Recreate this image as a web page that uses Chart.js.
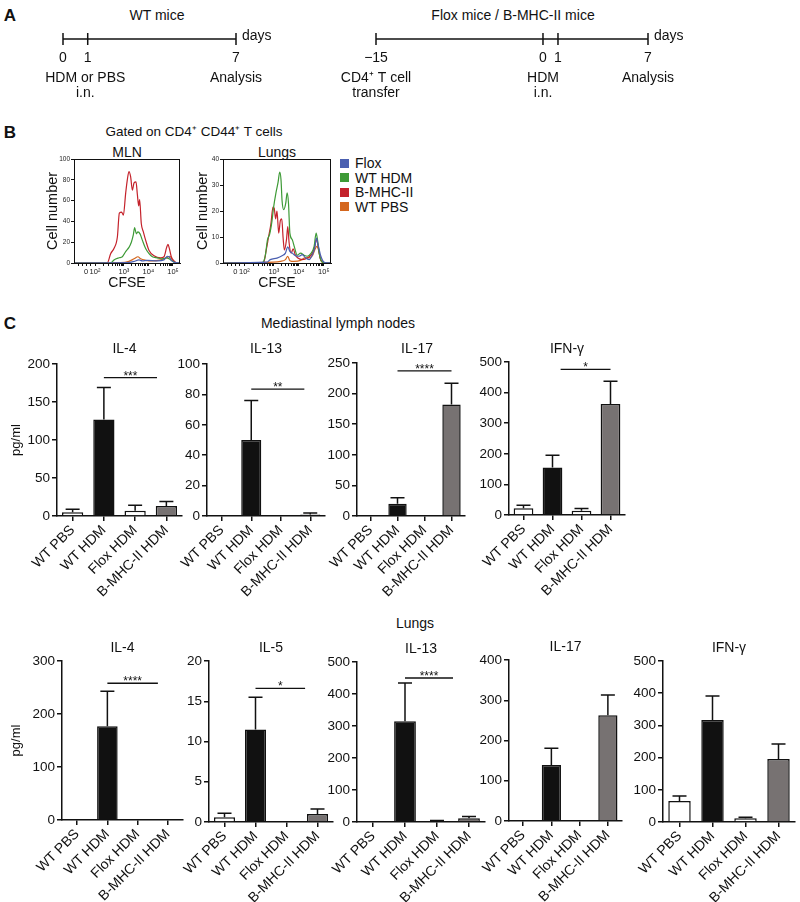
<!DOCTYPE html>
<html><head><meta charset="utf-8">
<script src="https://cdn.jsdelivr.net/npm/chart.js@4.4.1/dist/chart.umd.min.js"></script>
<style>
body{margin:0;background:#fff;width:800px;height:902px;position:relative;overflow:hidden;font-family:'Liberation Sans',Arial,sans-serif;color:#111}
.t{position:absolute;white-space:nowrap;transform:translate(-50%,-50%);line-height:1}
canvas{position:absolute}
.sq{position:absolute;width:9px;height:9px}
</style></head><body>
<script>
// ---------- DATA ----------
// Panel A timelines (days)
const tl1Days = [0, 1, 7];
const tl1DayLabels = ['0', '1', '7'];
const tl1Notes = [['HDM or PBS', 'i.n.'], ['Analysis']];
const tl1NoteDays = [0.9, 7];
const tl2Days = [-15, 0, 1, 7];
const tl2DayLabels = ['\u221215', '0', '1', '7'];
const tl2Notes = [['CD4\u207A T cell', 'transfer'], ['HDM', 'i.n.'], ['Analysis']];
const tl2NoteDays = [-15, 0, 7];

// Panel B histograms: [CFSE display channel (0-1024), cell number]
const histSeries = ['Flox', 'WT HDM', 'B-MHC-II', 'WT PBS'];
const histColors = ['#4a5fb0', '#3d9a36', '#c4222b', '#d4671e'];
const histTickCh = [116, 203, 482, 718, 956];
const histTickLabels = ['0', '10\u00B2', '10\u00B3', '10\u2074', '10\u2075'];
const mlnFlox = [[0,0],[515,0.3],[580,1.5],[628,3],[660,2],[708,2.5],[805,2],[869,3],[902,6.5],[918,6],[940,2.6],[982,0.3],[1024,0]];
const mlnWTHDM = [[0,0],[354,0],[386,3],[435,5],[467,6],[499,11],[531,15],[554,20],[573,27],[586,34],[602,28],[618,30],[638,28],[660,22],[692,14],[725,9],[757,6],[805,5],[853,4],[895,5],[918,4],[950,2],[982,0],[1024,0]];
const mlnBMHC = [[0,0],[322,0],[354,9],[386,14],[419,25],[438,48],[460,49],[477,46],[499,67],[515,80],[531,88],[547,83],[564,70],[580,77],[599,78],[612,66],[625,55],[634,61],[650,38],[670,30],[692,22],[725,12],[773,7],[837,5],[869,6],[895,15],[908,18],[921,14],[940,6],[966,2],[998,0],[1024,0]];
const mlnWTPBS = [[0,0],[451,0.3],[531,1.6],[580,4],[618,6],[644,4],[692,2.6],[757,2],[837,3],[895,5],[927,6.5],[950,3],[982,0.3],[1024,0]];
const lungFlox = [[0,0],[416,0.3],[448,1.3],[512,1.9],[560,2.8],[592,3.8],[614,6.2],[634,4.5],[656,3.8],[688,2.8],[720,2.6],[752,3.2],[784,1.9],[816,1.3],[848,3.2],[870,5.8],[886,9.6],[902,7],[928,2.6],[960,0.3],[1024,0]];
const lungWTHDM = [[0,0],[368,0],[400,2.6],[422,9],[442,11],[464,16],[480,21.5],[502,27],[522,31],[538,35],[550,32],[560,24],[576,20.5],[595,23],[608,27],[621,23],[634,11.5],[656,9],[678,6],[704,3],[736,3.8],[768,3],[800,2.6],[832,3.6],[864,6.4],[883,11.5],[896,9],[912,3.8],[934,0.6],[976,0],[1024,0]];
const lungBMHC = [[0,0],[384,0],[410,5],[432,10],[454,15],[474,21.5],[486,21],[499,17],[512,20],[528,11.5],[544,16.4],[557,17],[570,9.6],[582,5],[602,9],[614,14],[627,7.7],[646,3.8],[666,5.4],[685,3.2],[710,1.9],[752,1.3],[800,1.9],[848,3.8],[870,6.4],[886,9.2],[902,6.4],[922,1.9],[960,0],[1024,0]];
const lungWTPBS = [[0,0],[480,0.3],[544,0.6],[592,1.3],[614,2.6],[634,0.9],[672,0.6],[736,1],[774,2],[816,2],[848,2.8],[870,5],[890,6.4],[906,5],[928,1],[960,0.1],[1024,0]];

// Panel C bar charts (pg/ml): mean and SEM
const groups = ['WT PBS', 'WT HDM', 'Flox HDM', 'B-MHC-II HDM'];
const groupColors = ['#ffffff', '#111111', '#ffffff', '#777272'];
const mlnIL4 = [5, 127, 7, 13],      mlnIL4Err = [4, 42, 7, 6];
const mlnIL13 = [0, 50, 0, 1],       mlnIL13Err = [0, 26, 0, 1];
const mlnIL17 = [0, 20, 0, 182],     mlnIL17Err = [0, 10, 0, 35];
const mlnIFNg = [22, 155, 14, 363],  mlnIFNgErr = [10, 40, 7, 74];
const lungIL4 = [0, 177, 0, 0],      lungIL4Err = [0, 66, 0, 0];
const lungIL5 = [0.6, 11.5, 0, 1.0], lungIL5Err = [0.5, 4, 0, 0.6];
const lungIL13 = [0, 315, 3, 12],    lungIL13Err = [0, 119, 2, 5];
const lungIL17 = [0, 139, 0, 263],   lungIL17Err = [0, 42, 0, 50];
const lungIFNg = [65, 317, 12, 196], lungIFNgErr = [16, 74, 3, 46];

// ---------- SETUP ----------
const FONT = "'Liberation Sans', Arial, sans-serif";
Chart.defaults.font.family = FONT;
Chart.defaults.color = '#111';
Chart.defaults.animation = false;
Chart.defaults.responsive = false;
Chart.defaults.devicePixelRatio = 1;
Chart.defaults.plugins.legend.display = false;
Chart.defaults.plugins.tooltip.enabled = false;

class TimelineScale extends Chart.LinearScale {
  getPixelForValue(v) {
    const k = this.options.preScale ?? 1;
    const f = d => d < 0 ? d * k : d;
    return this.getPixelForDecimal((f(v) - f(this.min)) / (f(this.max) - f(this.min)));
  }
}
TimelineScale.id = 'timeline';
TimelineScale.defaults = Chart.LinearScale.defaults;
Chart.register(TimelineScale);

function txt(s, x, y, size, extra) {
  const d = document.createElement('div');
  d.className = 't';
  d.textContent = s;
  d.style.left = x + 'px'; d.style.top = y + 'px'; d.style.fontSize = size + 'px';
  if (extra) Object.assign(d.style, extra);
  document.body.appendChild(d);
  return d;
}
function addCanvas(left, top, w, h) {
  const c = document.createElement('canvas');
  c.width = w; c.height = h;
  Object.assign(c.style, {left: left + 'px', top: top + 'px', width: w + 'px', height: h + 'px'});
  document.body.appendChild(c);
  return c;
}

// ---------- PANEL LABELS / TEXT ----------
txt('A', 10, 15, 17, {fontWeight: 'bold'});
txt('WT mice', 157, 15, 14);
txt('Flox mice / B-MHC-II mice', 513, 15, 14);
txt('B', 10, 132, 17, {fontWeight: 'bold'});
txt('Gated on CD4\u207A CD44\u207A T cells', 194, 132, 13.5);
txt('MLN', 127, 152, 14);
txt('Lungs', 277, 152, 14);
txt('C', 10, 323, 17, {fontWeight: 'bold'});
txt('Mediastinal lymph nodes', 338, 323, 14);
txt('Lungs', 415, 623, 14);

// legend
histSeries.forEach((s, i) => {
  const y = 163 + i * 14.6;
  const q = document.createElement('div');
  q.className = 'sq';
  Object.assign(q.style, {left: '340px', top: (y - 4.5) + 'px', background: histColors[i]});
  document.body.appendChild(q);
  txt(s, 355, y, 14, {transform: 'translate(0,-50%)'});
});

// ---------- TIMELINES ----------
function makeTimeline(days, dayLabels, notes, noteDays, min, max, left, right, canvasLeft, canvasW, preScale) {
  const c = addCanvas(canvasLeft, 0, canvasW, 110);
  const lineY = 39;
  const deco = {
    id: 'tldeco',
    afterDatasetsDraw(chart) {
      const ctx = chart.ctx, xs = chart.scales.x;
      ctx.save();
      ctx.fillStyle = '#111';
      ctx.font = '14px ' + FONT;
      ctx.textAlign = 'center'; ctx.textBaseline = 'middle';
      days.forEach((d, i) => ctx.fillText(dayLabels[i], xs.getPixelForValue(d), 58));
      notes.forEach((lines, i) => {
        lines.forEach((l, j) => ctx.fillText(l, xs.getPixelForValue(noteDays[i]), 78 + j * 15));
      });
      ctx.textAlign = 'left';
      ctx.fillText('days', xs.getPixelForValue(max) + 6, 36);
      ctx.restore();
    }
  };
  new Chart(c, {
    type: 'line',
    data: {datasets: [{
      data: days.map(d => ({x: d, y: 0})),
      borderColor: '#111', borderWidth: 1.5, clip: false,
      pointStyle: 'line', pointRotation: 90, pointRadius: 6, pointBorderWidth: 1.5,
      pointBorderColor: '#111', pointBackgroundColor: '#111'
    }]},
    options: {
      layout: {padding: {left: left - canvasLeft, right: canvasLeft + canvasW - right, top: lineY - 10, bottom: 110 - lineY - 10}},
      scales: {
        x: {type: 'timeline', min: min, max: max, preScale: preScale, display: false},
        y: {type: 'linear', min: -1, max: 1, display: false}
      }
    },
    plugins: [deco]
  });
}
makeTimeline(tl1Days, tl1DayLabels, tl1Notes, tl1NoteDays, 0, 7, 63, 236, 0, 330, 1);
makeTimeline(tl2Days, tl2DayLabels, tl2Notes, tl2NoteDays, -15, 7, 376, 648, 330, 400, 0.742);

// ---------- HISTOGRAMS ----------
function histTicks() {
  const z = histTickCh[0], p2 = histTickCh[1];
  const t = [z - 70, z - 35, z, (z + p2) / 2];
  const dec = histTickCh.slice(1);
  for (let i = 0; i < dec.length; i++) {
    t.push(dec[i]);
    if (i < dec.length - 1) {
      for (let k = 2; k <= 9; k++) t.push(dec[i] + Math.log10(k) * (dec[i + 1] - dec[i]));
    }
  }
  return t;
}
function makeHist(box, canvasLeft, yMax, yStep, series) {
  const ct = box.top - 8, w = box.right - canvasLeft + 6, h = 300 - ct;
  const c = addCanvas(canvasLeft, ct, w, h);
  const frame = {
    id: 'frame',
    afterDraw(chart) {
      const a = chart.chartArea, ctx = chart.ctx;
      ctx.save(); ctx.strokeStyle = '#111'; ctx.lineWidth = 1;
      ctx.strokeRect(a.left + 0.5, a.top + 0.5, a.right - a.left - 1, a.bottom - a.top);
      ctx.restore();
    }
  };
  new Chart(c, {
    type: 'line',
    data: {datasets: series.map((s, i) => ({
      label: histSeries[i],
      data: s.map(([x, y]) => ({x, y})),
      borderColor: histColors[i], borderWidth: 1.2, pointRadius: 0,
      cubicInterpolationMode: 'monotone', fill: false
    }))},
    options: {
      layout: {padding: {left: 0, top: 8, right: 6, bottom: 0}},
      scales: {
        x: {
          type: 'linear', min: 0, max: 1024,
          afterBuildTicks: s => { s.ticks = histTicks().map(v => ({value: v})); },
          ticks: {autoSkip: false, maxRotation: 0, minRotation: 0, font: {size: 7.5}, padding: 1, color: '#222',
            callback: v => { const i = histTickCh.indexOf(v); return i >= 0 ? histTickLabels[i] : ''; }},
          grid: {drawOnChartArea: false, tickLength: 3, color: '#111'},
          border: {color: '#111', width: 1},
          title: {display: true, text: 'CFSE', font: {size: 14}, color: '#111', padding: {top: 0, bottom: 8}},
          afterFit: s => { s.height = 300 - box.bottom; }
        },
        y: {
          min: 0, max: yMax,
          ticks: {stepSize: yStep, font: {size: 6.5}, padding: 1, color: '#222'},
          grid: {drawOnChartArea: false, tickLength: 3, color: '#111'},
          border: {color: '#111', width: 1},
          title: {display: true, text: 'Cell number', font: {size: 14.5}, color: '#111', padding: {top: 4.3, bottom: 0}},
          afterFit: s => { s.width = box.left - canvasLeft; }
        }
      }
    },
    plugins: [frame]
  });
}
makeHist({left: 74, right: 180, top: 159, bottom: 263}, 40, 100, 20, [mlnFlox, mlnWTHDM, mlnBMHC, mlnWTPBS]);
makeHist({left: 223, right: 331, top: 159, bottom: 263}, 190, 40, 10, [lungFlox, lungWTHDM, lungBMHC, lungWTPBS]);

// ---------- BAR CHARTS ----------
function makeBar(p) {
  const b = p.box;
  const leftPad = p.yTitle ? b.axisX : 48;
  const cl = b.axisX - leftPad, ct = b.yTop - 45;
  const w = b.xRight - b.axisX + leftPad + 8, h = b.yBot - b.yTop + 45 + 92;
  const c = addCanvas(cl, ct, w, h);
  const deco = {
    id: 'deco',
    afterDatasetsDraw(chart) {
      const ctx = chart.ctx, ys = chart.scales.y, xs = chart.scales.x, a = chart.chartArea;
      const meta = chart.getDatasetMeta(0);
      ctx.save();
      ctx.strokeStyle = '#111'; ctx.lineWidth = 1.5;
      p.values.forEach((v, i) => {
        const e = p.errors[i];
        if (!e) return;
        const x = meta.data[i].x;
        const y0 = ys.getPixelForValue(v), y1 = ys.getPixelForValue(v + e);
        ctx.beginPath();
        ctx.moveTo(x, y0); ctx.lineTo(x, y1);
        ctx.moveTo(x - 7, y1); ctx.lineTo(x + 7, y1);
        ctx.stroke();
      });
      if (p.sig) {
        const x1 = xs.getPixelForValue(p.sig.from), x2 = xs.getPixelForValue(p.sig.to);
        const yy = ys.getPixelForValue(p.sig.y);
        ctx.lineWidth = 1.3;
        ctx.beginPath(); ctx.moveTo(x1, yy); ctx.lineTo(x2, yy); ctx.stroke();
        ctx.fillStyle = '#111';
        ctx.font = '12px ' + FONT;
        ctx.textAlign = 'center'; ctx.textBaseline = 'alphabetic';
        ctx.fillText(p.sig.text, (x1 + x2) / 2, yy + 2);
      }
      ctx.fillStyle = '#111';
      ctx.font = '14px ' + FONT;
      ctx.textAlign = 'center'; ctx.textBaseline = 'middle';
      ctx.fillText(p.title, (a.left + a.right) / 2 + (p.titleDx || 0), a.top - p.titleDy);
      ctx.restore();
    }
  };
  new Chart(c, {
    type: 'bar',
    data: {labels: groups, datasets: [{
      data: p.values, backgroundColor: groupColors, borderColor: '#111', borderWidth: 1.5,
      barPercentage: 0.68, categoryPercentage: 1
    }]},
    options: {
      layout: {padding: {left: 0, top: 45, right: 8, bottom: 0}},
      scales: {
        x: {
          type: 'category', offset: true,
          grid: {display: true, offset: false, drawOnChartArea: false, drawTicks: true, tickLength: 5, color: '#111', lineWidth: 1.5},
          border: {display: true, color: '#111', width: 1.5},
          ticks: {autoSkip: false, minRotation: 45, maxRotation: 45, font: {size: 14}, color: '#111', padding: 1},
          afterFit: s => { s.height = 92; }
        },
        y: {
          min: 0, max: p.max,
          ticks: {stepSize: p.step, font: {size: 13.5}, color: '#111', padding: 2},
          grid: {display: true, drawOnChartArea: false, drawTicks: true, tickLength: 5, color: '#111', lineWidth: 1.5},
          border: {display: true, color: '#111', width: 1.5},
          title: p.yTitle ? {display: true, text: p.yTitle, font: {size: 13}, color: '#111', padding: {top: 9, bottom: 0}} : {display: false},
          afterFit: s => { s.width = leftPad; }
        }
      }
    },
    plugins: [deco]
  });
}

// MLN row
makeBar({title: 'IL-4', values: mlnIL4, errors: mlnIL4Err, max: 200, step: 50, yTitle: 'pg/ml',
  sig: {text: '***', from: 1, to: 2.7, y: 182}, box: {axisX: 57, xRight: 182, yTop: 364, yBot: 516}, titleDy: 15, titleDx: 5});
makeBar({title: 'IL-13', values: mlnIL13, errors: mlnIL13Err, max: 100, step: 20,
  sig: {text: '**', from: 1, to: 2.8, y: 83.5}, box: {axisX: 207, xRight: 325, yTop: 364, yBot: 516}, titleDy: 15});
makeBar({title: 'IL-17', values: mlnIL17, errors: mlnIL17Err, max: 250, step: 50,
  sig: {text: '****', from: 1, to: 3, y: 237}, box: {axisX: 357, xRight: 465, yTop: 363, yBot: 516}, titleDy: 14, titleDx: 6});
makeBar({title: 'IFN-\u03B3', values: mlnIFNg, errors: mlnIFNgErr, max: 500, step: 100,
  sig: {text: '*', from: 1.28, to: 3, y: 476}, box: {axisX: 509, xRight: 625, yTop: 362, yBot: 515}, titleDy: 13});

// Lungs row
makeBar({title: 'IL-4', values: lungIL4, errors: lungIL4Err, max: 300, step: 100, yTitle: 'pg/ml',
  sig: {text: '****', from: 1, to: 2.67, y: 258}, box: {axisX: 62, xRight: 183, yTop: 661, yBot: 820}, titleDy: 13});
makeBar({title: 'IL-5', values: lungIL5, errors: lungIL5Err, max: 20, step: 5,
  sig: {text: '*', from: 1, to: 2.6, y: 16.6}, box: {axisX: 209, xRight: 333, yTop: 661, yBot: 822}, titleDy: 13});
makeBar({title: 'IL-13', values: lungIL13, errors: lungIL13Err, max: 500, step: 100,
  sig: {text: '****', from: 1, to: 2.5, y: 450}, box: {axisX: 357, xRight: 485, yTop: 662, yBot: 822}, titleDy: 13});
makeBar({title: 'IL-17', values: lungIL17, errors: lungIL17Err, max: 400, step: 100,
  box: {axisX: 509, xRight: 622, yTop: 660, yBot: 821}, titleDy: 13});
makeBar({title: 'IFN-\u03B3', values: lungIFNg, errors: lungIFNgErr, max: 500, step: 100,
  box: {axisX: 663, xRight: 795, yTop: 661, yBot: 822}, titleDy: 13});
</script>
</body></html>
